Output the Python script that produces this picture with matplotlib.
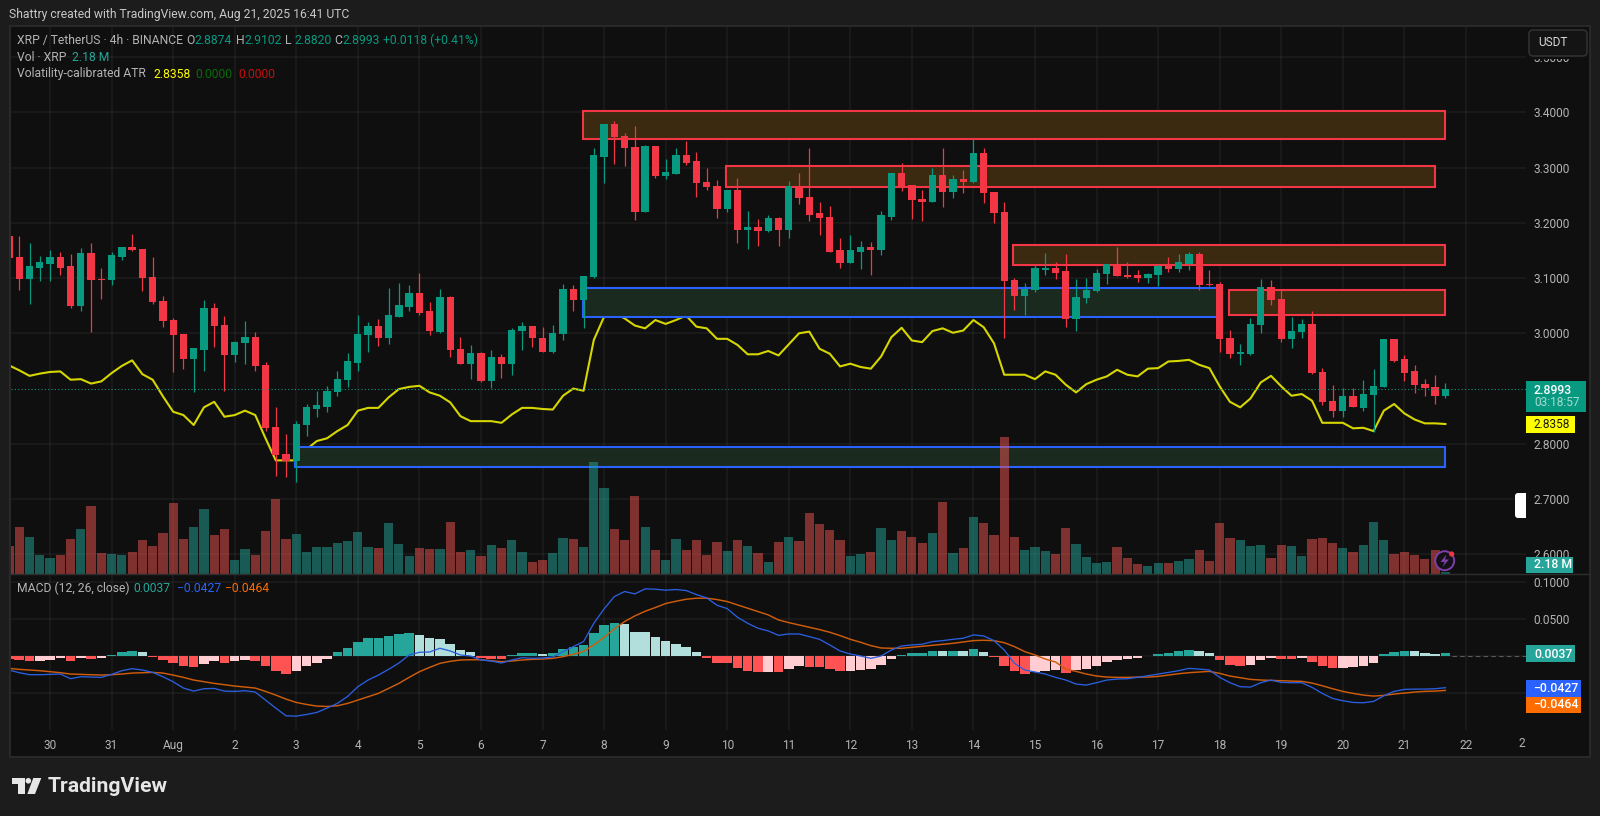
import matplotlib
matplotlib.use('Agg')
import matplotlib.pyplot as plt
from matplotlib.patches import Rectangle, Circle, Polygon, FancyBboxPatch

plt.rcParams['font.family'] = ['Roboto', 'DejaVu Sans']

# 4h candles, bar 0 is 29 Jul 08:00
opens = [3.176, 3.139, 3.098, 3.119, 3.126, 3.139, 3.122, 3.050, 3.145, 3.098,
         3.096, 3.138, 3.157, 3.153, 3.101, 3.059, 3.024, 2.999, 2.954, 2.970,
         3.045, 3.015, 2.960, 2.983, 2.993, 2.942, 2.830, 2.781, 2.768, 2.834,
         2.863, 2.867, 2.894, 2.916, 2.947, 2.997, 3.013, 2.992, 3.030, 3.048,
         3.073, 3.040, 3.002, 3.065, 2.972, 2.945, 2.964, 2.914, 2.957, 2.945,
         3.004, 3.013, 2.992, 2.967, 2.999, 3.080, 3.060, 3.102, 3.319, 3.379,
         3.357, 3.337, 3.220, 3.339, 3.285, 3.289, 3.322, 3.311, 3.274, 3.267,
         3.225, 3.260, 3.187, 3.193, 3.185, 3.208, 3.187, 3.266, 3.247, 3.217,
         3.210, 3.150, 3.128, 3.148, 3.157, 3.150, 3.211, 3.290, 3.268, 3.243,
         3.238, 3.287, 3.256, 3.279, 3.273, 3.327, 3.256, 3.219, 3.097, 3.068,
         3.079, 3.115, 3.118, 3.113, 3.025, 3.064, 3.076, 3.108, 3.125, 3.106,
         3.106, 3.100, 3.105, 3.124, 3.117, 3.126, 3.144, 3.089, 3.089, 2.992,
         2.963, 2.963, 3.015, 3.084, 3.062, 2.990, 3.002, 3.017, 2.930, 2.878,
         2.860, 2.887, 2.865, 2.889, 2.903, 2.990, 2.953, 2.932, 2.908, 2.903, 2.8874]
closes = [3.137, 3.098, 3.122, 3.129, 3.139, 3.119, 3.050, 3.145, 3.097, 3.096,
          3.141, 3.157, 3.151, 3.100, 3.057, 3.022, 2.997, 2.954, 2.973, 3.045,
          3.013, 2.960, 2.984, 2.993, 2.940, 2.829, 2.779, 2.768, 2.836, 2.866,
          2.870, 2.896, 2.917, 2.949, 2.998, 3.013, 2.992, 3.033, 3.051, 3.073,
          3.037, 3.004, 3.065, 2.970, 2.945, 2.964, 2.913, 2.957, 2.945, 3.006,
          3.013, 2.991, 2.967, 3.001, 3.080, 3.060, 3.104, 3.322, 3.379, 3.355,
          3.335, 3.220, 3.339, 3.285, 3.292, 3.322, 3.308, 3.272, 3.265, 3.225,
          3.260, 3.187, 3.193, 3.185, 3.208, 3.187, 3.266, 3.245, 3.215, 3.208,
          3.148, 3.128, 3.150, 3.157, 3.150, 3.214, 3.290, 3.265, 3.242, 3.238,
          3.287, 3.256, 3.279, 3.273, 3.327, 3.254, 3.217, 3.095, 3.068, 3.081,
          3.118, 3.118, 3.110, 3.025, 3.066, 3.079, 3.109, 3.125, 3.103, 3.102,
          3.100, 3.108, 3.122, 3.117, 3.129, 3.144, 3.088, 3.088, 2.990, 2.963,
          2.966, 3.017, 3.084, 3.060, 2.990, 3.004, 3.017, 2.928, 2.876, 2.860,
          2.887, 2.866, 2.891, 2.905, 2.990, 2.950, 2.929, 2.907, 2.901, 2.887, 2.8993]
highs = [3.176, 3.176, 3.163, 3.140, 3.151, 3.148, 3.143, 3.155, 3.163, 3.118,
         3.148, 3.157, 3.180, 3.153, 3.138, 3.068, 3.027, 2.999, 2.973, 3.060,
         3.054, 3.031, 2.986, 3.022, 3.003, 2.948, 2.866, 2.818, 2.841, 2.872,
         2.895, 2.905, 2.931, 2.964, 3.033, 3.021, 3.025, 3.082, 3.091, 3.088,
         3.109, 3.056, 3.080, 3.067, 2.994, 2.978, 2.966, 2.969, 2.962, 3.009,
         3.020, 3.013, 3.011, 3.015, 3.089, 3.087, 3.104, 3.335, 3.379, 3.384,
         3.363, 3.375, 3.341, 3.339, 3.315, 3.335, 3.348, 3.329, 3.299, 3.278,
         3.260, 3.281, 3.221, 3.207, 3.215, 3.211, 3.276, 3.290, 3.335, 3.238,
         3.230, 3.173, 3.178, 3.167, 3.165, 3.221, 3.291, 3.308, 3.269, 3.259,
         3.300, 3.335, 3.287, 3.296, 3.351, 3.335, 3.256, 3.237, 3.100, 3.091,
         3.124, 3.145, 3.129, 3.143, 3.098, 3.100, 3.117, 3.126, 3.157, 3.129,
         3.115, 3.110, 3.124, 3.139, 3.143, 3.148, 3.148, 3.115, 3.092, 3.006,
         2.980, 3.027, 3.098, 3.097, 3.081, 3.030, 3.026, 3.040, 2.937, 2.907,
         2.901, 2.901, 2.916, 2.936, 2.990, 2.990, 2.960, 2.943, 2.917, 2.925, 2.9102]
lows = [3.137, 3.079, 3.053, 3.094, 3.094, 3.105, 3.045, 3.041, 3.003, 3.062,
        3.088, 3.132, 3.149, 3.077, 3.053, 3.011, 2.930, 2.936, 2.893, 2.931,
        2.976, 2.896, 2.948, 2.945, 2.931, 2.823, 2.742, 2.740, 2.731, 2.814,
        2.849, 2.858, 2.887, 2.903, 2.931, 2.966, 2.977, 2.981, 3.030, 3.041,
        3.033, 2.997, 3.001, 2.957, 2.945, 2.918, 2.911, 2.901, 2.919, 2.924,
        2.970, 2.975, 2.967, 2.965, 2.988, 3.041, 3.010, 3.100, 3.272, 3.307,
        3.303, 3.205, 3.220, 3.281, 3.280, 3.289, 3.305, 3.247, 3.260, 3.209,
        3.220, 3.164, 3.153, 3.158, 3.183, 3.158, 3.173, 3.234, 3.204, 3.178,
        3.148, 3.119, 3.128, 3.116, 3.105, 3.142, 3.205, 3.258, 3.206, 3.204,
        3.238, 3.228, 3.245, 3.254, 3.272, 3.236, 3.200, 2.992, 3.042, 3.033,
        3.074, 3.106, 3.098, 3.011, 3.004, 3.055, 3.074, 3.089, 3.103, 3.100,
        3.093, 3.091, 3.085, 3.111, 3.111, 3.115, 3.078, 3.086, 2.966, 2.955,
        2.942, 2.961, 3.001, 3.051, 2.984, 2.974, 2.992, 2.927, 2.870, 2.849,
        2.849, 2.866, 2.860, 2.822, 2.903, 2.948, 2.913, 2.892, 2.887, 2.872, 2.8820]

atr = [2.942, 2.933, 2.923, 2.927, 2.930, 2.931, 2.916, 2.917, 2.909, 2.913,
       2.928, 2.941, 2.951, 2.926, 2.916, 2.886, 2.858, 2.852, 2.834, 2.866,
       2.876, 2.849, 2.852, 2.860, 2.852, 2.810, 2.770, 2.770, 2.770, 2.790,
       2.805, 2.810, 2.823, 2.834, 2.860, 2.865, 2.865, 2.884, 2.899, 2.903,
       2.905, 2.893, 2.887, 2.875, 2.850, 2.841, 2.841, 2.841, 2.838, 2.853,
       2.865, 2.865, 2.863, 2.862, 2.887, 2.900, 2.896, 2.988, 3.030, 3.036,
       3.027, 3.014, 3.009, 3.024, 3.017, 3.024, 3.032, 3.012, 3.009, 2.990,
       2.990, 2.979, 2.962, 2.962, 2.968, 2.960, 2.980, 3.000, 3.003, 2.972,
       2.963, 2.940, 2.945, 2.939, 2.936, 2.958, 2.993, 3.010, 2.987, 2.984,
       3.004, 3.009, 3.001, 3.005, 3.024, 3.011, 2.982, 2.925, 2.925, 2.925,
       2.917, 2.931, 2.925, 2.907, 2.893, 2.908, 2.916, 2.922, 2.934, 2.925,
       2.922, 2.936, 2.937, 2.949, 2.950, 2.952, 2.943, 2.937, 2.904, 2.876,
       2.866, 2.882, 2.911, 2.923, 2.904, 2.887, 2.890, 2.878, 2.838, 2.838,
       2.838, 2.828, 2.829, 2.823, 2.860, 2.872, 2.855, 2.844, 2.837, 2.837, 2.8358]

# volume, millions
volumes = [27.7, 46.7, 37.0, 18.7, 15.7, 18.7, 34.3, 44.7, 67.7, 20.3,
           19.7, 18.7, 21.7, 33.3, 27.7, 41.0, 70.3, 34.3, 47.0, 64.3,
           38.3, 44.7, 13.7, 24.3, 18.7, 42.7, 74.7, 35.0, 39.7, 21.3,
           26.3, 26.3, 30.3, 32.3, 41.7, 26.3, 25.3, 50.7, 29.3, 17.7,
           25.3, 24.7, 24.7, 51.7, 21.7, 23.7, 17.7, 28.3, 25.3, 33.3,
           21.7, 11.7, 13.7, 20.3, 36.0, 34.3, 26.3, 112.0, 86.0, 44.7,
           33.3, 77.3, 46.7, 23.3, 13.7, 35.0, 23.3, 33.3, 18.7, 31.3,
           22.3, 33.3, 27.3, 20.3, 11.7, 31.3, 37.0, 32.3, 60.7, 49.7,
           43.7, 33.3, 17.7, 19.7, 21.7, 45.7, 33.3, 42.7, 36.3, 30.3,
           40.7, 71.3, 20.3, 25.3, 56.7, 50.7, 38.3, 137.0, 37.0, 23.3,
           26.3, 22.3, 19.7, 45.7, 29.3, 16.7, 10.7, 11.7, 26.3, 15.7,
           9.7, 7.7, 10.7, 10.7, 12.7, 14.7, 23.3, 12.7, 50.7, 36.0,
           33.3, 27.3, 28.3, 15.7, 28.3, 27.3, 17.7, 35.0, 36.0, 30.3,
           25.3, 21.7, 28.3, 51.7, 33.3, 19.7, 21.7, 18.7, 14.7, 23.3, 2.18]

macd_line = [-0.0189, -0.0225, -0.0252, -0.0252, -0.0248, -0.0243, -0.0306, -0.0279, -0.0284, -0.0288,
             -0.0248, -0.0198, -0.0171, -0.0189, -0.0221, -0.0279, -0.0347, -0.0432, -0.0473, -0.0441,
             -0.0437, -0.0473, -0.0477, -0.0468, -0.0486, -0.0594, -0.0702, -0.0806, -0.0810, -0.0788,
             -0.0761, -0.0702, -0.0639, -0.0545, -0.0414, -0.0324, -0.0257, -0.0180, -0.0095, 0.0014,
             0.0050, 0.0054, 0.0104, 0.0068, 0.0014, 0.0000, -0.0054, -0.0068, -0.0095, -0.0054,
             -0.0023, -0.0032, -0.0027, -0.0014, 0.0059, 0.0126, 0.0194, 0.0441, 0.0635, 0.0801,
             0.0869, 0.0837, 0.0905, 0.0900, 0.0887, 0.0896, 0.0882, 0.0828, 0.0783, 0.0684,
             0.0639, 0.0522, 0.0441, 0.0374, 0.0338, 0.0279, 0.0297, 0.0297, 0.0261, 0.0225,
             0.0149, 0.0068, 0.0027, 0.0000, -0.0032, 0.0000, 0.0081, 0.0135, 0.0149, 0.0158,
             0.0194, 0.0207, 0.0225, 0.0239, 0.0284, 0.0270, 0.0207, 0.0081, -0.0099, -0.0189,
             -0.0216, -0.0243, -0.0288, -0.0324, -0.0378, -0.0392, -0.0360, -0.0324, -0.0311, -0.0306,
             -0.0288, -0.0266, -0.0243, -0.0221, -0.0198, -0.0167, -0.0176, -0.0189, -0.0288, -0.0360,
             -0.0414, -0.0419, -0.0360, -0.0324, -0.0356, -0.0360, -0.0360, -0.0423, -0.0504, -0.0572,
             -0.0603, -0.0626, -0.0630, -0.0612, -0.0536, -0.0477, -0.0450, -0.0446, -0.0446, -0.0441, -0.0427]
signal_line = [-0.0167, -0.0180, -0.0189, -0.0198, -0.0212, -0.0225, -0.0243, -0.0248, -0.0252, -0.0257,
               -0.0252, -0.0243, -0.0230, -0.0225, -0.0221, -0.0230, -0.0257, -0.0288, -0.0324, -0.0347,
               -0.0369, -0.0387, -0.0405, -0.0419, -0.0432, -0.0477, -0.0527, -0.0581, -0.0626, -0.0653,
               -0.0675, -0.0680, -0.0671, -0.0639, -0.0594, -0.0549, -0.0504, -0.0437, -0.0369, -0.0288,
               -0.0212, -0.0153, -0.0099, -0.0072, -0.0054, -0.0050, -0.0050, -0.0063, -0.0077, -0.0068,
               -0.0054, -0.0045, -0.0041, -0.0032, -0.0009, 0.0023, 0.0063, 0.0149, 0.0252, 0.0365,
               0.0464, 0.0540, 0.0603, 0.0653, 0.0707, 0.0738, 0.0765, 0.0779, 0.0779, 0.0761,
               0.0734, 0.0689, 0.0644, 0.0599, 0.0554, 0.0486, 0.0450, 0.0419, 0.0387, 0.0356,
               0.0320, 0.0275, 0.0225, 0.0185, 0.0140, 0.0108, 0.0104, 0.0104, 0.0117, 0.0131,
               0.0144, 0.0158, 0.0171, 0.0189, 0.0207, 0.0212, 0.0207, 0.0180, 0.0126, 0.0059,
               0.0014, -0.0041, -0.0081, -0.0176, -0.0207, -0.0243, -0.0270, -0.0284, -0.0288, -0.0288,
               -0.0284, -0.0284, -0.0275, -0.0257, -0.0239, -0.0225, -0.0216, -0.0207, -0.0234, -0.0270,
               -0.0293, -0.0315, -0.0324, -0.0329, -0.0333, -0.0338, -0.0342, -0.0365, -0.0401, -0.0441,
               -0.0477, -0.0504, -0.0527, -0.0540, -0.0531, -0.0513, -0.0500, -0.0486, -0.0477, -0.0473, -0.0464]
macd_hist = [-0.0045, -0.0054, -0.0068, -0.0063, -0.0050, -0.0032, -0.0072, -0.0032, -0.0036, -0.0032,
             0.0014, 0.0059, 0.0072, 0.0059, -0.0014, -0.0059, -0.0095, -0.0135, -0.0149, -0.0104,
             -0.0068, -0.0090, -0.0072, -0.0059, -0.0072, -0.0135, -0.0203, -0.0239, -0.0203, -0.0140,
             -0.0090, -0.0041, 0.0059, 0.0113, 0.0185, 0.0239, 0.0243, 0.0270, 0.0293, 0.0306,
             0.0284, 0.0239, 0.0234, 0.0167, 0.0086, 0.0059, -0.0032, -0.0036, -0.0041, 0.0014,
             0.0036, 0.0041, 0.0032, 0.0041, 0.0095, 0.0117, 0.0144, 0.0306, 0.0419, 0.0441,
             0.0432, 0.0329, 0.0320, 0.0252, 0.0198, 0.0162, 0.0117, 0.0054, -0.0023, -0.0090,
             -0.0099, -0.0162, -0.0207, -0.0216, -0.0212, -0.0216, -0.0171, -0.0140, -0.0144, -0.0149,
             -0.0180, -0.0207, -0.0203, -0.0194, -0.0180, -0.0117, -0.0041, 0.0018, 0.0041, 0.0045,
             0.0068, 0.0063, 0.0068, 0.0063, 0.0095, 0.0054, -0.0014, -0.0131, -0.0207, -0.0248,
             -0.0212, -0.0207, -0.0194, -0.0225, -0.0189, -0.0180, -0.0135, -0.0086, -0.0059, -0.0045,
             -0.0032, 0.0005, 0.0032, 0.0045, 0.0063, 0.0077, 0.0063, 0.0036, -0.0050, -0.0122,
             -0.0140, -0.0117, -0.0059, -0.0027, -0.0036, -0.0041, -0.0032, -0.0077, -0.0131, -0.0167,
             -0.0158, -0.0153, -0.0135, -0.0099, 0.0023, 0.0054, 0.0072, 0.0063, 0.0045, 0.0032, 0.0037]

# drawn zones: left bar, right bar, top price, bottom price
resistance_zones = [(55.9, 140.0, 3.403, 3.352),
                    (69.9, 139.0, 3.303, 3.264),
                    (97.9, 140.0, 3.160, 3.124),
                    (118.9, 140.0, 3.078, 3.034)]
support_zones = [(55.9, 118.0, 3.082, 3.030),
                 (27.9, 140.0, 2.795, 2.758)]

price_ticks = [2.6, 2.7, 2.8, 3.0, 3.1, 3.2, 3.3, 3.4, 3.5]
macd_ticks = [-0.05, 0.0, 0.05, 0.1]
macd_tick_labels = ['', '', '0.0500', '0.1000']
day_ticks = list(range(4, 147, 6))
day_labels = ['30', '31', 'Aug', '2', '3', '4', '5', '6', '7', '8', '9', '10', '11', '12',
              '13', '14', '15', '16', '17', '18', '19', '20', '21', '22']

GREEN = '#089981'
RED = '#f23645'
TEXT = '#b4b4b4'
W, H = 1600, 816
PANE_L, PANE_R = 10.7, 1526
PANE_T, PANE_MID, PANE_B = 27, 573.7, 730


def rect(x0, y0, x1, y1):
    return [x0 / W, 1 - y1 / H, (x1 - x0) / W, (y1 - y0) / H]


def bar_x(px):
    return (px - 9) / 10.26


def price_y(px):
    return 3.0 - (px - 333.3) / 552.5


def macd_y(px):
    return (656 - px) / 742


fig = plt.figure(figsize=(16, 8.16), dpi=100, facecolor='#1c1c1c')

# frame behind everything
ax_bg = fig.add_axes([0, 0, 1, 1], zorder=0)
ax_bg.set_xlim(0, W)
ax_bg.set_ylim(H, 0)
ax_bg.axis('off')
ax_bg.add_patch(Rectangle((10, 26), 1580, 731, fc='#0f0f0f', ec='#2c2c2c', lw=1.2))

xs = list(range(len(opens)))
up = [c >= o for o, c in zip(opens, closes)]

ax = fig.add_axes(rect(PANE_L, PANE_T, PANE_R, PANE_MID), zorder=2)
ax.patch.set_visible(False)
ax.set_xlim(bar_x(PANE_L), bar_x(PANE_R))
ax.set_ylim(price_y(PANE_MID), price_y(PANE_T))
ax.grid(True, color='#ffffff', alpha=0.055, lw=1.1)
ax.set_axisbelow(True)

ax.plot(xs, atr, color='#d6d600', lw=1.5, zorder=2)

for left, right, top, bottom in resistance_zones:
    ax.add_patch(Rectangle((left, bottom), right - left, top - bottom, fc='#3b2a10', ec=RED, lw=1.5, zorder=3))
for left, right, top, bottom in support_zones:
    ax.add_patch(Rectangle((left, bottom), right - left, top - bottom, fc='#1b2a1e', ec='#2962ff', lw=1.5, zorder=3))

candle_colors = [GREEN if u else RED for u in up]
ax.vlines(xs, lows, highs, colors=candle_colors, lw=0.9, zorder=4)
ax.bar(xs, [abs(c - o) for o, c in zip(opens, closes)], bottom=[min(o, c) for o, c in zip(opens, closes)],
       width=0.71, color=candle_colors, zorder=5)
ax.axhline(closes[-1], color=GREEN, lw=0.8, ls=(0, (1, 2)), zorder=6)

ax.set_xticks(day_ticks)
ax.tick_params(axis='x', length=0, labelbottom=False)
ax.yaxis.tick_right()
ax.set_yticks(price_ticks)
ax.set_yticklabels(['%.4f' % t for t in price_ticks])
ax.tick_params(axis='y', length=0, pad=5.5, labelsize=8.6, labelcolor=TEXT)
for s in ax.spines.values():
    s.set_visible(False)

# volume is see-through and sits over the zones
ax_vol = fig.add_axes(rect(PANE_L, PANE_T, PANE_R, PANE_MID), zorder=3)
ax_vol.patch.set_visible(False)
ax_vol.set_xlim(bar_x(PANE_L), bar_x(PANE_R))
ax_vol.set_ylim(0, PANE_MID - PANE_T)
ax_vol.bar(xs, volumes, width=0.9, color=['#26a69a' if u else '#ef5350' for u in up], alpha=0.5)
ax_vol.axis('off')

# macd pane
ax_macd = fig.add_axes(rect(PANE_L, PANE_MID, PANE_R, PANE_B), zorder=2)
ax_macd.patch.set_visible(False)
ax_macd.set_xlim(bar_x(PANE_L), bar_x(PANE_R))
ax_macd.set_ylim(macd_y(PANE_B), macd_y(PANE_MID))
ax_macd.grid(True, color='#ffffff', alpha=0.055, lw=1.1)
ax_macd.set_axisbelow(True)

hist_colors = []
prev = macd_hist[0]
for v in macd_hist:
    if v >= 0:
        hist_colors.append('#26a69a' if v >= prev else '#b2dfdb')
    else:
        hist_colors.append('#ffcdd2' if v > prev else '#ff5252')
    prev = v
ax_macd.bar(xs, macd_hist, width=0.93, color=hist_colors, zorder=2)
ax_macd.plot(xs, signal_line, color='#cf5c0c', lw=1.05, zorder=3)
ax_macd.plot(xs, macd_line, color='#2a5fe0', lw=0.95, zorder=4)
ax_macd.plot([xs[-1] + 0.6, bar_x(PANE_R)], [0, 0], color='#5a5a5a', lw=0.8, ls=(0, (4, 3)), zorder=2)

ax_macd.set_xticks(day_ticks)
ax_macd.set_xticklabels(day_labels)
ax_macd.tick_params(axis='x', length=0, pad=6.5, labelsize=8.6, labelcolor=TEXT)
ax_macd.yaxis.tick_right()
ax_macd.set_yticks(macd_ticks)
ax_macd.set_yticklabels(macd_tick_labels)
ax_macd.tick_params(axis='y', length=0, pad=5.5, labelsize=8.6, labelcolor=TEXT)
for s in ax_macd.spines.values():
    s.set_visible(False)

# overlay in pixel coordinates: legends, axis labels, logo
ov = fig.add_axes([0, 0, 1, 1], zorder=5)
ov.set_xlim(0, W)
ov.set_ylim(H, 0)
ov.axis('off')


def label(x, y, s, color=TEXT, size=8.7, **kw):
    ov.text(x, y, s, color=color, fontsize=size, va='center', ha=kw.pop('ha', 'left'), **kw)


def tag(x0, y0, x1, y1, color):
    ov.add_patch(Rectangle((x0, y0), x1 - x0, y1 - y0, fc=color, ec='none'))


ov.plot([10, 1590], [PANE_MID, PANE_MID], color='#2e2e2e', lw=1.0)
label(1522, 743.5, '2', size=8.6, ha='center')

label(9.3, 14.7, 'Shattry created with TradingView.com, Aug 21, 2025 16:41 UTC', color='#c8c8c8', size=8.7)

label(17, 40.7, 'XRP / TetherUS · 4h · BINANCE')
for x, name, val in [(186, 'O', '2.8874'), (236, 'H', '2.9102'), (285.5, 'L', '2.8820'), (334, 'C', '2.8993')]:
    label(x, 40.7, name)
    label(x + 8.5, 40.7, val, color=GREEN)
label(383, 40.7, '+0.0118 (+0.41%)', color=GREEN)
label(17, 57.3, 'Vol · XRP')
label(72, 57.3, '2.18 M', color='#26a69a')
label(17, 74, 'Volatility-calibrated ATR')
label(153, 74, '2.8358', color='#ffff00')
label(195, 74, '0.0000', color='#0a6a0a')
label(238, 74, '0.0000', color='#c00f0f')
label(17, 588, 'MACD (12, 26, close)')
label(133.5, 588, '0.0037', color='#26a69a')
label(176.5, 588, '−0.0427', color='#2962ff')
label(224.8, 588, '−0.0464', color='#ff6d00')

# USDT button and its shadow cover most of the 3.5000 tick
tag(1529, 54, 1587, 59.3, '#0f0f0f')
ov.add_patch(FancyBboxPatch((1531, 32), 54, 22, boxstyle='round,pad=2,rounding_size=4', fc='#141414', ec='#363636', lw=1))
label(1538, 43, 'USDT', color='#d8d8d8', size=8.6)

tag(1526, 381, 1585.7, 411.7, GREEN)
label(1534, 390, '2.8993', color='#ffffff', size=8.8, fontweight='medium')
label(1534, 403, '03:18:57', color='#a6dcd2', size=8.6)
tag(1526, 416, 1574.7, 433, '#ffff00')
label(1534, 425, '2.8358', color='#1a1a1a', size=8.6)
tag(1526, 557.3, 1573, 572.7, '#26a69a')
label(1534, 565, '2.18 M', color='#ffffff', size=8.8, fontweight='medium')
tag(1526, 645, 1575, 662, '#26a69a')
label(1534, 654, '0.0037', color='#ffffff', size=8.8, fontweight='medium')
tag(1526, 680, 1581, 696.7, '#2962ff')
label(1533, 688.5, '−0.0427', color='#ffffff', size=8.8, fontweight='medium')
tag(1526, 696.7, 1581, 713.3, '#ff6d00')
label(1533, 705, '−0.0464', color='#ffffff', size=8.8, fontweight='medium')

# white handle next to the axis
ov.add_patch(FancyBboxPatch((1517, 495), 7, 21, boxstyle='round,pad=2,rounding_size=3', fc='white', ec='none'))
tag(1522, 493, 1526, 518, 'white')

# bolt badge
ov.add_patch(Circle((1444.7, 560.7), 9.5, fc='#141018', ec='#7e3fa8', lw=1.4))
ov.add_patch(Polygon([(1446.5, 554.5), (1440.5, 562), (1444.5, 562), (1442.5, 567), (1449, 559.5), (1445, 559.5)], fc='#7e3fa8', ec='none'))
ov.add_patch(Circle((1451.7, 554), 2.6, fc=RED, ec='none'))

# TradingView logo
LOGO = '#e6e6e6'
ov.add_patch(Polygon([(11.7, 778), (25, 778), (25, 794), (18.3, 794), (18.3, 784), (11.7, 784)], fc=LOGO, ec='none'))
ov.add_patch(Circle((28.3, 780.8), 2.8, fc=LOGO, ec='none'))
ov.add_patch(Polygon([(41.3, 778), (35, 794), (27.3, 794), (33.3, 778)], fc=LOGO, ec='none'))
label(48, 786.5, 'TradingView', color=LOGO, size=15.2, fontweight='bold')

fig.savefig('out.png', dpi=100, facecolor=fig.get_facecolor())
